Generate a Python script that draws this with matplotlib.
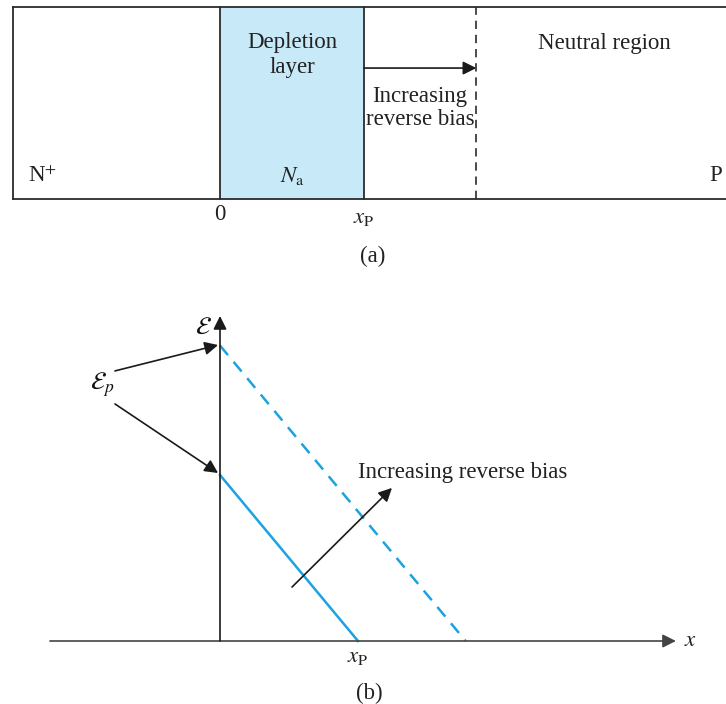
import matplotlib
matplotlib.use('Agg')
import matplotlib.pyplot as plt
from matplotlib.patches import Rectangle

plt.rcParams['font.family'] = ['Liberation Serif', 'DejaVu Serif']
plt.rcParams['mathtext.fontset'] = 'stix'
plt.rcParams['font.size'] = 16.5

# positions along the junction (units of the zero-bias depletion width)
x_left = -1.44
x_right = 3.5
x_zero = 0.0
x_p = 1.0
x_p_reverse = 1.78

# field profile at the two biases
field_x = [x_zero, x_p]
field_solid = [1.0, 0.0]
field_x_reverse = [x_zero, x_p_reverse]
field_dashed = [1.78, 0.0]

blue = '#1ba3e0'
shade = '#c7e9f8'
dark = '#2b2b2b'
arrow_kw = dict(arrowstyle='-|>', mutation_scale=20, color='#1a1a1a', lw=1.2,
                shrinkA=0, shrinkB=0)

fig = plt.figure(figsize=(7.26, 7.04), dpi=100)

# ---------------- (a) ----------------
ax1 = fig.add_axes([0, 1 - 280 / 704, 1, 280 / 704])
ax1.set_xlim(-220 / 144, 506 / 144)
ax1.set_ylim(-81 / 192, 1 + 7 / 192)
ax1.axis('off')

ax1.add_patch(Rectangle((x_zero, 0), x_p - x_zero, 1, facecolor=shade, edgecolor='none'))
ax1.plot([x_left, x_right + 0.2], [1, 1], color=dark, lw=1.3)
ax1.plot([x_left, x_right + 0.2], [0, 0], color=dark, lw=1.3)
ax1.plot([x_left, x_left], [0, 1], color=dark, lw=1.3)
ax1.plot([x_zero, x_zero], [0, 1], color=dark, lw=1.3)
ax1.plot([x_p, x_p], [0, 1], color=dark, lw=1.3)
ax1.plot([x_p_reverse, x_p_reverse], [0, 1], color=dark, lw=1.2, ls=(0, (5, 3.5)))
ax1.annotate('', xy=(x_p_reverse, 0.682), xytext=(x_p, 0.682), arrowprops=arrow_kw)

ax1.text(0.5, 0.75, 'Depletion\nlayer', ha='center', va='center', color='#222',
         linespacing=1.2)
ax1.text(2.67, 0.81, 'Neutral region', ha='center', va='center', color='#222')
ax1.text(1.39, 0.474, 'Increasing\nreverse bias', ha='center', va='center', color='#222',
         linespacing=1.15)
ax1.text(-1.33, 0.12, 'N$^{+}$', ha='left', va='center', color='#222')
ax1.text(0.5, 0.12, '$N_{\\mathrm{a}}$', ha='center', va='center', color='#222')
ax1.text(3.44, 0.12, 'P', ha='center', va='center', color='#222')
ax1.text(x_zero, -0.083, '0', ha='center', va='center', color='#222')
ax1.text(x_p, -0.094, '$x_{\\mathrm{P}}$', ha='center', va='center', color='#222')
ax1.text(1.06, -0.30, '(a)', ha='center', va='center', color='#222')

# ---------------- (b) ----------------
ax2 = fig.add_axes([0, 0, 1, 424 / 704])
ax2.set_xlim(-220 / 138, 506 / 138)
ax2.set_ylim(-63 / 166, 361 / 166)
ax2.axis('off')

ax2.annotate('', xy=(3.304, 0), xytext=(-1.232, 0), arrowprops=dict(arrow_kw, color='#444'))
ax2.annotate('', xy=(0, 1.958), xytext=(0, 0), arrowprops=arrow_kw)

ax2.plot(field_x, field_solid, color=blue, lw=1.8)
ax2.plot(field_x_reverse, field_dashed, color=blue, lw=1.8, ls=(0, (5, 3.5)))

ax2.annotate('', xy=(1.246, 0.922), xytext=(0.522, 0.325), arrowprops=arrow_kw)
ax2.annotate('', xy=(-0.014, 1.783), xytext=(-0.761, 1.627), arrowprops=arrow_kw)
ax2.annotate('', xy=(-0.014, 1.012), xytext=(-0.761, 1.428), arrowprops=arrow_kw)

ax2.text(-0.123, 1.886, '$\\mathcal{E}$', ha='center', va='center', color='#111',
         fontsize=18)
ax2.text(-0.855, 1.542, '$\\mathcal{E}_{p}$', ha='center', va='center', color='#111',
         fontsize=18)
ax2.text(1.0, 1.018, 'Increasing reverse bias', ha='left', va='center', color='#222')
ax2.text(x_p, -0.096, '$x_{\\mathrm{P}}$', ha='center', va='center', color='#222')
ax2.text(3.41, 0.0, '$x$', ha='center', va='center', color='#222')
ax2.text(1.08, -0.313, '(b)', ha='center', va='center', color='#222')

fig.savefig('out.png', dpi=100)
